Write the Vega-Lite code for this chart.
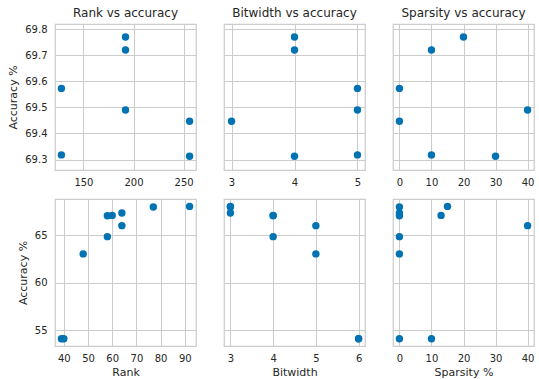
{
  "$schema": "https://vega.github.io/schema/vega-lite/v6.json",
  "background": "white",
  "padding": {"left": 7, "top": 6, "right": 0, "bottom": 0},
  "config": {
    "font": "DejaVu Sans",
    "view": {"stroke": "#cccccc", "strokeWidth": 1.25},
    "axis": {
      "labelFont": "DejaVu Sans",
      "labelFontSize": 10,
      "labelColor": "#262626",
      "titleFont": "DejaVu Sans",
      "titleFontSize": 11,
      "titleFontWeight": "normal",
      "titleColor": "#262626",
      "gridColor": "#cccccc",
      "gridWidth": 1,
      "domain": false,
      "ticks": false
    },
    "axisX": {"labelPadding": 7, "titlePadding": 3},
    "axisY": {"labelPadding": 8, "titlePadding": 6},
    "title": {"font": "DejaVu Sans", "fontSize": 12, "fontWeight": "normal", "color": "#262626", "offset": 4},
    "circle": {"size": 55, "opacity": 1, "color": "#0173b2"}
  },
  "datasets": {
    "first": [
      {"rank": 192, "bitwidth": 4, "sparsity": 20, "accuracy": 69.77},
      {"rank": 192, "bitwidth": 4, "sparsity": 10, "accuracy": 69.72},
      {"rank": 128, "bitwidth": 5, "sparsity": 0, "accuracy": 69.573},
      {"rank": 192, "bitwidth": 5, "sparsity": 40, "accuracy": 69.49},
      {"rank": 256, "bitwidth": 3, "sparsity": 0, "accuracy": 69.447},
      {"rank": 128, "bitwidth": 5, "sparsity": 10, "accuracy": 69.318},
      {"rank": 256, "bitwidth": 4, "sparsity": 30, "accuracy": 69.313}
    ],
    "second": [
      {"rank": 92, "bitwidth": 3, "sparsity": 15, "accuracy": 68.05},
      {"rank": 77, "bitwidth": 3, "sparsity": 0, "accuracy": 67.98},
      {"rank": 64, "bitwidth": 3, "sparsity": 0, "accuracy": 67.35},
      {"rank": 58, "bitwidth": 4, "sparsity": 0, "accuracy": 67.07},
      {"rank": 60, "bitwidth": 4, "sparsity": 13, "accuracy": 67.1},
      {"rank": 64, "bitwidth": 5, "sparsity": 40, "accuracy": 66.02},
      {"rank": 58, "bitwidth": 4, "sparsity": 0, "accuracy": 64.86},
      {"rank": 48, "bitwidth": 5, "sparsity": 0, "accuracy": 63.04},
      {"rank": 39, "bitwidth": 6, "sparsity": 0, "accuracy": 54.09},
      {"rank": 40, "bitwidth": 6, "sparsity": 10, "accuracy": 54.09}
    ]
  },
  "columns": 3,
  "spacing": {"row": 29, "column": 28},
  "bounds": "flush",
  "concat": [
    {
      "data": {"name": "first"},
      "title": "Rank vs accuracy",
      "width": 141, "height": 146,
      "mark": "circle",
      "encoding": {
        "x": {"field": "rank", "type": "quantitative", "scale": {"domain": [121.6, 262.4], "nice": false, "zero": false}, "axis": {"values": [150, 200, 250], "title": null}},
        "y": {"field": "accuracy", "type": "quantitative", "scale": {"domain": [69.26, 69.82], "nice": false, "zero": false}, "axis": {"values": [69.3, 69.4, 69.5, 69.6, 69.7, 69.8], "format": ".1f", "title": "Accuracy %"}}
      }
    },
    {
      "data": {"name": "first"},
      "title": "Bitwidth vs accuracy",
      "width": 141, "height": 146,
      "mark": "circle",
      "encoding": {
        "x": {"field": "bitwidth", "type": "quantitative", "scale": {"domain": [2.88, 5.12], "nice": false, "zero": false}, "axis": {"values": [3, 4, 5], "title": null}},
        "y": {"field": "accuracy", "type": "quantitative", "scale": {"domain": [69.26, 69.82], "nice": false, "zero": false}, "axis": {"values": [69.3, 69.4, 69.5, 69.6, 69.7, 69.8], "labels": false, "title": null}}
      }
    },
    {
      "data": {"name": "first"},
      "title": "Sparsity vs accuracy",
      "width": 141, "height": 146,
      "mark": "circle",
      "encoding": {
        "x": {"field": "sparsity", "type": "quantitative", "scale": {"domain": [-2, 42], "nice": false, "zero": false}, "axis": {"values": [0, 10, 20, 30, 40], "title": null}},
        "y": {"field": "accuracy", "type": "quantitative", "scale": {"domain": [69.26, 69.82], "nice": false, "zero": false}, "axis": {"values": [69.3, 69.4, 69.5, 69.6, 69.7, 69.8], "labels": false, "title": null}}
      }
    },
    {
      "data": {"name": "second"},
      "width": 141, "height": 147,
      "mark": "circle",
      "encoding": {
        "x": {"field": "rank", "type": "quantitative", "scale": {"domain": [36.35, 94.65], "nice": false, "zero": false}, "axis": {"values": [40, 50, 60, 70, 80, 90], "title": "Rank"}},
        "y": {"field": "accuracy", "type": "quantitative", "scale": {"domain": [53.33, 68.83], "nice": false, "zero": false}, "axis": {"values": [55, 60, 65], "title": "Accuracy %"}}
      }
    },
    {
      "data": {"name": "second"},
      "width": 141, "height": 147,
      "mark": "circle",
      "encoding": {
        "x": {"field": "bitwidth", "type": "quantitative", "scale": {"domain": [2.85, 6.15], "nice": false, "zero": false}, "axis": {"values": [3, 4, 5, 6], "title": "Bitwidth"}},
        "y": {"field": "accuracy", "type": "quantitative", "scale": {"domain": [53.33, 68.83], "nice": false, "zero": false}, "axis": {"values": [55, 60, 65], "labels": false, "title": null}}
      }
    },
    {
      "data": {"name": "second"},
      "width": 141, "height": 147,
      "mark": "circle",
      "encoding": {
        "x": {"field": "sparsity", "type": "quantitative", "scale": {"domain": [-2, 42], "nice": false, "zero": false}, "axis": {"values": [0, 10, 20, 30, 40], "title": "Sparsity %"}},
        "y": {"field": "accuracy", "type": "quantitative", "scale": {"domain": [53.33, 68.83], "nice": false, "zero": false}, "axis": {"values": [55, 60, 65], "labels": false, "title": null}}
      }
    }
  ]
}
